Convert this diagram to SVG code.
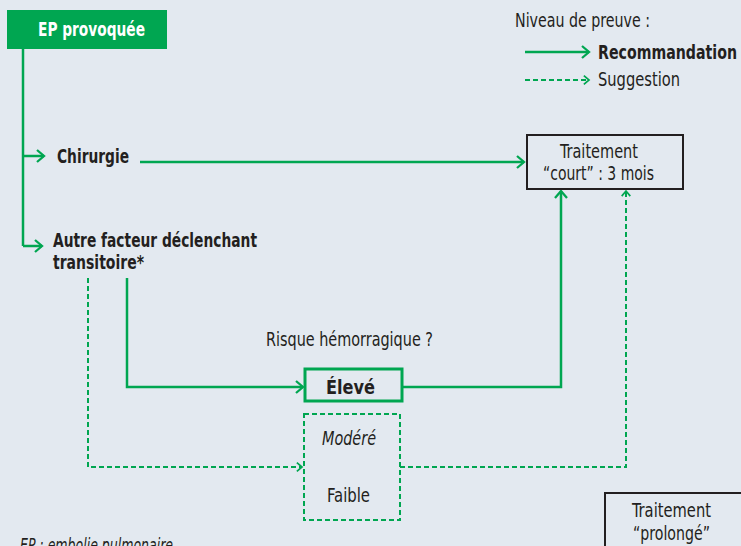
<svg xmlns="http://www.w3.org/2000/svg" width="741" height="546" viewBox="0 0 741 546">
<defs>
<style>
.t{font-family:"Liberation Sans Narrow","DejaVu Sans Condensed","Liberation Sans",sans-serif;font-size:20px;fill:#231f20}
.b{font-weight:bold}
.i{font-style:italic}
.s{fill:none;stroke:#00a651;stroke-width:2.5}
.d{fill:none;stroke:#00a651;stroke-width:2;stroke-dasharray:5 3}
.box{fill:none;stroke:#231f20;stroke-width:2}
</style>
<marker id="ah" markerUnits="userSpaceOnUse" viewBox="0 0 10 14" refX="8" refY="7" markerWidth="10" markerHeight="14" orient="auto">
<path d="M1,1 L8,7 L1,13" fill="none" stroke="#00a651" stroke-width="2.3"/>
</marker>
<marker id="ahd" markerUnits="userSpaceOnUse" viewBox="0 0 10 14" refX="8" refY="7" markerWidth="9" markerHeight="12" orient="auto">
<path d="M2,2 L8,7 L2,12" fill="none" stroke="#00a651" stroke-width="2"/>
</marker>
</defs>
<rect width="741" height="546" fill="#e3e9f0"/>

<g id="connectors">
<path class="s" d="M23,49 V246"/>
<path class="s" d="M23,156 H44" marker-end="url(#ah)"/>
<path class="s" d="M23,246 H42" marker-end="url(#ah)"/>
<path class="s" d="M140,162 H524" marker-end="url(#ah)"/>
<path class="s" d="M127,278 V387 H303" marker-end="url(#ah)"/>
<path class="d" d="M88,278 V467 H302" marker-end="url(#ahd)"/>
<path class="s" d="M402,387 H561 V191" marker-end="url(#ah)"/>
<path class="d" d="M400,467 H626 V191" marker-end="url(#ahd)"/>
</g>

<g id="ep">
<rect x="7" y="10" width="160" height="39" fill="#00a651"/>
<text class="t b" x="38" y="36" style="fill:#fff" textLength="107" lengthAdjust="spacingAndGlyphs">EP provoquée</text>
</g>

<g id="legend">
<text class="t" x="515" y="27" textLength="135" lengthAdjust="spacingAndGlyphs">Niveau de preuve :</text>
<path class="s" d="M525,52 H589" marker-end="url(#ah)"/>
<text class="t b" x="598" y="59" textLength="139" lengthAdjust="spacingAndGlyphs">Recommandation</text>
<path class="d" d="M525,80 H589" marker-end="url(#ahd)"/>
<text class="t" x="598" y="86" textLength="82" lengthAdjust="spacingAndGlyphs">Suggestion</text>
</g>

<g id="chirurgie">
<text class="t b" x="57" y="163" textLength="72" lengthAdjust="spacingAndGlyphs">Chirurgie</text>
</g>

<g id="autre">
<text class="t b" x="53" y="247" textLength="204" lengthAdjust="spacingAndGlyphs">Autre facteur déclenchant</text>
<text class="t b" x="53" y="269" textLength="91" lengthAdjust="spacingAndGlyphs">transitoire*</text>
</g>

<g id="court">
<rect class="box" x="527" y="135" width="156" height="54"/>
<text class="t" x="560" y="158" textLength="78" lengthAdjust="spacingAndGlyphs">Traitement</text>
<text class="t" x="543" y="180" textLength="111" lengthAdjust="spacingAndGlyphs">“court” : 3 mois</text>
</g>

<g id="risque">
<text class="t" x="266" y="346" textLength="167" lengthAdjust="spacingAndGlyphs">Risque hémorragique ?</text>
</g>

<g id="eleve">
<rect x="305" y="369" width="97" height="32" fill="none" stroke="#00a651" stroke-width="3"/>
<text class="t b" x="326" y="394" textLength="49" lengthAdjust="spacingAndGlyphs">Élevé</text>
</g>

<g id="modere">
<rect class="d" x="304" y="414" width="96" height="106"/>
<text class="t i" x="322" y="445" textLength="54" lengthAdjust="spacingAndGlyphs">Modéré</text>
<text class="t" x="327" y="502" textLength="43" lengthAdjust="spacingAndGlyphs">Faible</text>
</g>

<g id="prolonge">
<rect class="box" x="605" y="493" width="138" height="70"/>
<text class="t" x="632" y="517" textLength="79" lengthAdjust="spacingAndGlyphs">Traitement</text>
<text class="t" x="633" y="540" textLength="77" lengthAdjust="spacingAndGlyphs">“prolongé”</text>
</g>

<g id="note">
<text class="t i" x="20" y="552" textLength="153" lengthAdjust="spacingAndGlyphs">EP : embolie pulmonaire</text>
</g>
</svg>
